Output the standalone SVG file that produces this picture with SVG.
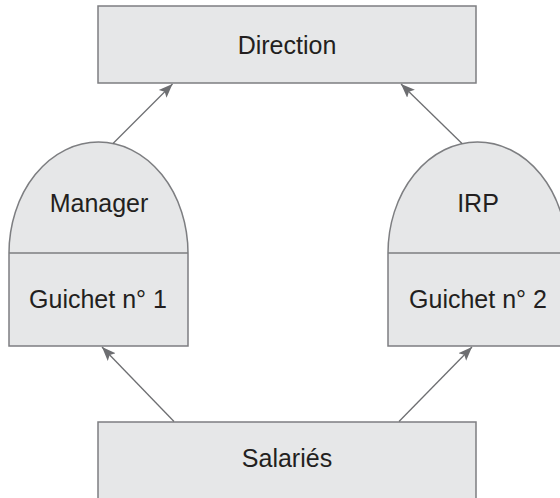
<svg xmlns="http://www.w3.org/2000/svg" width="560" height="498" viewBox="0 0 560 498">
<style>
.node{fill:#e6e7e8;stroke:#7d7e81;stroke-width:1.5}
.div{stroke:#7d7e81;stroke-width:1.5;fill:none}
.lbl{font-family:"Liberation Sans",Arial,sans-serif;font-size:25px;fill:#231f20;text-anchor:middle}
.edge{stroke:#6d6e71;stroke-width:1.3;fill:none;marker-end:url(#arr)}
</style>
<defs>
<marker id="arr" markerUnits="userSpaceOnUse" markerWidth="16" markerHeight="12" viewBox="0 -6 16 12" refX="14" refY="0" orient="auto">
<path d="M0,-5.5 L14,0 L0,5.5 L3,0 Z" fill="#6d6e71"/>
</marker>
</defs>
<rect width="560" height="498" fill="#ffffff"/>
<g id="direction">
<rect class="node" x="98" y="6" width="378" height="77"/>
<text class="lbl" x="287" y="54">Direction</text>
</g>
<g id="guichet1">
<path class="node" d="M9,253 A89.5,111 0 0 1 188,253 L188,346 L9,346 Z"/>
<line class="div" x1="9" y1="253" x2="188" y2="253"/>
<text class="lbl" x="99" y="212">Manager</text>
<text class="lbl" x="98" y="308">Guichet n° 1</text>
</g>
<g id="guichet2">
<path class="node" d="M388,253 A89.5,111 0 0 1 567,253 L567,346 L388,346 Z"/>
<line class="div" x1="388" y1="253" x2="567" y2="253"/>
<text class="lbl" x="478" y="212">IRP</text>
<text class="lbl" x="478" y="308">Guichet n° 2</text>
</g>
<g id="salaries">
<rect class="node" x="98" y="422" width="378" height="90"/>
<text class="lbl" x="287" y="467">Salariés</text>
</g>
<g id="connectors">
<line class="edge" x1="113" y1="143.5" x2="172.5" y2="84"/>
<line class="edge" x1="462" y1="143.5" x2="401" y2="84"/>
<line class="edge" x1="174" y1="421.5" x2="102" y2="347"/>
<line class="edge" x1="399" y1="421.5" x2="472" y2="347"/>
</g>
</svg>
